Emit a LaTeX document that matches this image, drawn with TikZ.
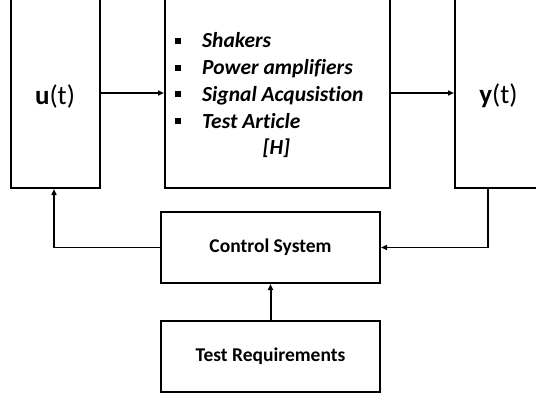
\documentclass[tikz,border=0pt]{standalone}
\usepackage{fontspec}
\setmainfont{Carlito}[Ligatures=NoCommon]
\usetikzlibrary{arrows.meta}
\usetikzlibrary{positioning}

\newcommand{\sqbul}{\raisebox{4pt}{\rule{6pt}{6pt}}}

\begin{document}
\begin{tikzpicture}[x=1pt, y=-1pt,
    blk/.style={draw, line width=2pt, inner sep=0pt},
    sig/.style={-{Triangle[length=6pt, width=5pt]}, line width=1.5pt}]
    \clip (0,0) rectangle (536,396);

    % Input signal
    \node[blk, minimum width=89pt, minimum height=190pt] (u) at (55.5,93) {};
    \node[font=\fontsize{27}{32}\selectfont] (ulab) at (55,96) {\textbf{u}(t)};

    % Test system [H]
    \node[blk, minimum width=225pt, minimum height=190pt] (H) at (277.5,93) {};
    \node[anchor=west, inner sep=0pt, font=\fontsize{21.5}{26.7}\selectfont\bfseries\itshape] (Hlist) at (175,96) {%
        \begin{tabular}{@{}l@{\hspace{21pt}}l@{}}
            \sqbul & Shakers \\
            \sqbul & Power amplifiers \\
            \sqbul & Signal Acqusistion \\
            \sqbul & Test Article \\
            \multicolumn{2}{@{}c@{}}{\hspace*{14pt}[H]}
        \end{tabular}};

    % Output signal
    \node[blk, minimum width=86pt, minimum height=190pt] (y) at (498,93) {};
    \node[font=\fontsize{27}{32}\selectfont] (ylab) at (498.5,96) {\textbf{y}(t)};

    % Control System
    \node[blk, minimum width=219pt, minimum height=71pt, font=\fontsize{19.5}{23}\selectfont\bfseries] (cs) at (270.5,247.5) {Control System};

    % Test Requirements
    \node[blk, minimum width=219pt, minimum height=71pt, font=\fontsize{19.5}{23}\selectfont\bfseries] (tr) at (270.5,356.5) {Test Requirements};

    % Signal flow
    \draw[sig] (u.east) -- (H.west);
    \draw[sig] (H.east) -- (y.west);
    \draw[sig, line width=2pt] (tr.north) -- (cs.south);
    \draw[sig] (cs.west) -| ([xshift=-1.5pt]u.south);
    \draw[sig] ([xshift=-10pt]y.south) |- (cs.east);
\end{tikzpicture}
\end{document}
